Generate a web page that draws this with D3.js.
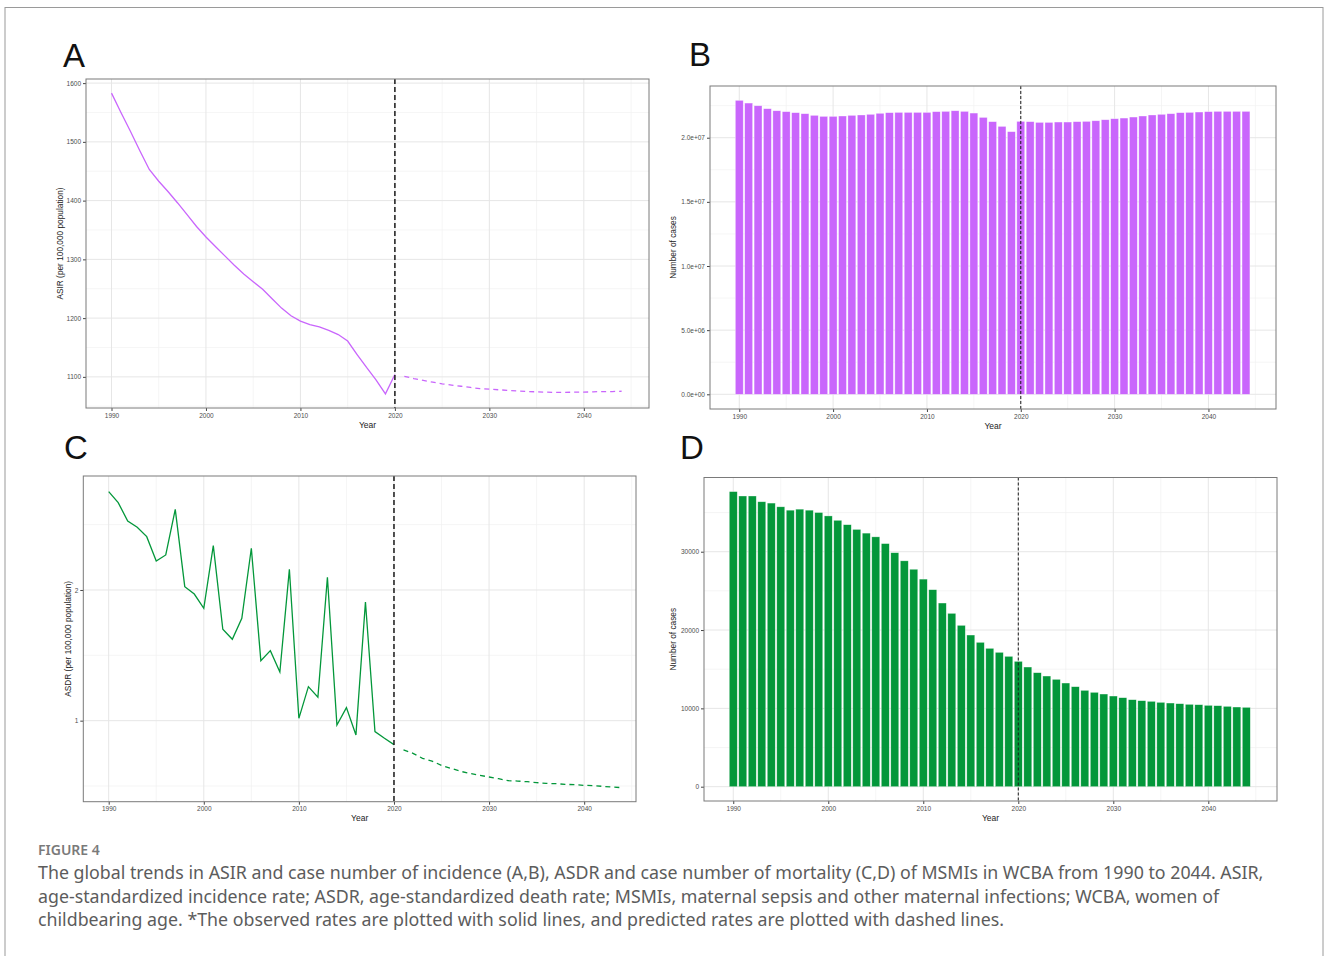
<!DOCTYPE html>
<html>
<head>
<meta charset="utf-8">
<script src="https://cdn.jsdelivr.net/npm/d3@7"></script>
<style>
  body{margin:0;background:#fff}
  text{font-family:"Liberation Sans",Arial,sans-serif}
</style>
</head>
<body>
<div id="chart-area"></div>
<script>
//Data
var years = [1990,1991,1992,1993,1994,1995,1996,1997,1998,1999,2000,2001,2002,2003,2004,2005,2006,2007,2008,2009,
  2010,2011,2012,2013,2014,2015,2016,2017,2018,2019,2020,2021,2022,2023,2024,2025,2026,2027,2028,2029,
  2030,2031,2032,2033,2034,2035,2036,2037,2038,2039,2040,2041,2042,2043,2044]
var obsYears = years.slice(0,31)    //1990-2020, solid lines
var predYears = years.slice(31)     //2021-2044, dashed lines

//A: ASIR
var asirObs = [1583,1550,1518,1485,1453,1433,1415,1396,1376,1356,1338,1322,1306,1290,1275,1262,1249,1233,1217,1204,
  1195,1189,1185,1179,1172,1161,1138,1116,1095,1071,1104]
var asirPred = [1101,1097,1094,1091,1088,1086,1084,1082,1080,1079,1078,1077,1076,1075,1074.5,1074,1073.5,1073.5,1074,1074,
  1074.5,1075,1075,1075.5]

//B: number of incident cases
var incCases = [22910000,22700000,22490000,22260000,22100000,22030000,21950000,21870000,21740000,21660000,
  21660000,21690000,21740000,21770000,21820000,21900000,21950000,21970000,21970000,21970000,
  21970000,22030000,22050000,22100000,22050000,21920000,21580000,21250000,20880000,20470000,
  21270000,21250000,21190000,21190000,21220000,21220000,21250000,21270000,21320000,21400000,
  21480000,21530000,21610000,21690000,21770000,21820000,21870000,21950000,21970000,22000000,
  22030000,22050000,22050000,22050000,22050000]

//C: ASDR
var asdrObs = [2.752,2.668,2.528,2.48,2.408,2.222,2.268,2.617,2.025,1.969,1.86,2.339,1.699,1.623,1.783,2.319,1.459,1.536,1.372,2.158,
  1.018,1.26,1.179,2.097,0.967,1.1,0.891,1.908,0.916,0.865,0.817]
var asdrPred = [0.776,0.75,0.712,0.691,0.658,0.635,0.612,0.597,0.582,0.569,0.556,0.541,0.538,0.533,0.526,0.52,0.518,0.513,0.51,0.505,
  0.503,0.497,0.492,0.487]

//D: number of deaths
var deathCases = [37672,37112,37112,36379,36207,35733,35302,35431,35302,35000,34569,34009,33448,32845,32371,31897,31034,29871,28836,27759,
  26500,25150,23447,22128,20596,19362,18426,17660,17149,16638,16000,15277,14553,14128,13702,13234,12766,12298,12043,11830,
  11574,11362,11106,10979,10894,10766,10681,10596,10511,10468,10383,10340,10255,10170,10128]

//Ticks
var xTicks = [1990,2000,2010,2020,2030,2040]
var xMinor = [1985,1995,2005,2015,2025,2035,2045]
var asirTicks = [1100,1200,1300,1400,1500,1600]
var asirMinor = [1050,1150,1250,1350,1450,1550,1650]
var incTicks = [0,5e6,1e7,1.5e7,2e7]
var incMinor = [2.5e6,7.5e6,1.25e7,1.75e7,2.25e7]
var asdrTicks = [1,2]
var asdrMinor = [0.5,1.5,2.5]
var deathTicks = [0,10000,20000,30000]
var deathMinor = [5000,15000,25000,35000]
var cutYear = 2020

var captionTitle = "FIGURE 4"
var captionLines = [
  "The global trends in ASIR and case number of incidence (A,B), ASDR and case number of mortality (C,D) of MSMIs in WCBA from 1990 to 2044. ASIR,",
  "age-standardized incidence rate; ASDR, age-standardized death rate; MSMIs, maternal sepsis and other maternal infections; WCBA, women of",
  "childbearing age. *The observed rates are plotted with solid lines, and predicted rates are plotted with dashed lines."
]

var purple = "#c966fc"
var green = "#03973a"

//Canvas
var svg = d3.select("#chart-area")
  .append("svg")
    .attr("width",1328)
    .attr("height",956)

svg.append("rect")
  .attr("x",5).attr("y",7.5)
  .attr("width",1318).attr("height",960)
  .attr("fill","#fff")
  .attr("stroke","#9a9a9a")
  .attr("stroke-width",1)

//Format like R: 2.0e+07
var sciFormat = (d)=>{
  return d.toExponential(1).replace(/e([+-])(\d)$/,"e$10$2")
}

//Draws one panel frame, grid, axes and titles and returns its scales
const drawPanel = (p)=>{
  let x = d3.scaleLinear().domain(p.xDomain).range([p.left,p.right])
  let y = d3.scaleLinear().domain(p.yDomain).range([p.bottom,p.top])
  let g = svg.append("g")

  //Grid
  let inX = (v)=> v>p.xDomain[0] && v<p.xDomain[1]
  let inY = (v)=> v>p.yDomain[0] && v<p.yDomain[1]
  g.selectAll(".vminor").data(xMinor.filter(inX)).enter().append("line")
    .attr("x1",d=>x(d)).attr("x2",d=>x(d)).attr("y1",p.top).attr("y2",p.bottom)
    .attr("stroke","#f1f1f1").attr("stroke-width",0.7)
  g.selectAll(".hminor").data(p.yMinor.filter(inY)).enter().append("line")
    .attr("x1",p.left).attr("x2",p.right).attr("y1",d=>y(d)).attr("y2",d=>y(d))
    .attr("stroke","#f1f1f1").attr("stroke-width",0.7)
  g.selectAll(".vmajor").data(xTicks).enter().append("line")
    .attr("x1",d=>x(d)).attr("x2",d=>x(d)).attr("y1",p.top).attr("y2",p.bottom)
    .attr("stroke","#e6e6e6").attr("stroke-width",1)
  g.selectAll(".hmajor").data(p.yTicks).enter().append("line")
    .attr("x1",p.left).attr("x2",p.right).attr("y1",d=>y(d)).attr("y2",d=>y(d))
    .attr("stroke","#e6e6e6").attr("stroke-width",1)

  //Axes
  let xAxisGroup = svg.append("g")
    .attr("transform","translate(0," + p.bottom + ")")
    .call(d3.axisBottom(x).tickValues(xTicks).tickSize(3).tickPadding(2).tickFormat(d3.format("d")))
  let yAxisGroup = svg.append("g")
    .attr("transform","translate(" + p.left + ",0)")
    .call(d3.axisLeft(y).tickValues(p.yTicks).tickSize(3).tickPadding(2).tickFormat(p.fmt))
  ;[xAxisGroup,yAxisGroup].forEach((a)=>{
    a.select(".domain").remove()
    a.selectAll("line").attr("stroke","#444")
    a.selectAll("text")
      .attr("font-size","6.5px")
      .attr("fill","#4d4d4d")
      .style("font-family","'Liberation Sans',Arial,sans-serif")
  })

  //Labels
  svg.append("text")
    .attr("x",(p.left + p.right) * 0.5)
    .attr("y",p.bottom + 19.5)
    .attr("font-size","8.5px")
    .attr("text-anchor","middle")
    .attr("fill","#222")
    .text("Year")
  svg.append("text")
    .attr("transform","translate(" + p.titleX + "," + ((p.top + p.bottom) * 0.5) + ") rotate(-90)")
    .attr("font-size","8.3px")
    .attr("text-anchor","middle")
    .attr("fill","#222")
    .text(p.yTitle)
  svg.append("text")
    .attr("x",p.letterX)
    .attr("y",p.letterY)
    .attr("font-size","33px")
    .attr("fill","#111")
    .style("font-family","'Liberation Sans Narrow','Liberation Sans',Arial,sans-serif")
    .text(p.letter)

  return {x:x,y:y,p:p}
}

const drawBorder = (c)=>{
  let p = c.p
  svg.append("rect")
    .attr("x",p.left).attr("y",p.top)
    .attr("width",p.right - p.left).attr("height",p.bottom - p.top)
    .attr("fill","none")
    .attr("stroke","#7a7a7a")
    .attr("stroke-width",1)
}

const drawCut = (c,width,dash)=>{
  svg.append("line")
    .attr("x1",c.x(cutYear)).attr("x2",c.x(cutYear))
    .attr("y1",c.p.top).attr("y2",c.p.bottom)
    .attr("stroke","#1a1a1a")
    .attr("stroke-width",width)
    .attr("stroke-dasharray",dash)
}

const drawLines = (c,obs,pred,color)=>{
  let line = d3.line()
    .x(d=>c.x(d[0]))
    .y(d=>c.y(d[1]))
  svg.append("path")
    .datum(d3.zip(obsYears,obs))
    .attr("d",line)
    .attr("fill","none")
    .attr("stroke",color)
    .attr("stroke-width",1.3)
  svg.append("path")
    .datum(d3.zip(predYears,pred))
    .attr("d",line)
    .attr("fill","none")
    .attr("stroke",color)
    .attr("stroke-width",1.3)
    .attr("stroke-dasharray","5,4")
}

const drawBars = (c,values,color)=>{
  let pitch = c.x(1991) - c.x(1990)
  let w = pitch * 0.84
  svg.selectAll(null)
    .data(d3.zip(years,values))
    .enter()
    .append("rect")
      .attr("x",d=>c.x(d[0]) - w/2)
      .attr("y",d=>c.y(d[1]))
      .attr("width",w)
      .attr("height",d=>c.y(0) - c.y(d[1]))
      .attr("fill",color)
      .attr("stroke","#ffffff")
      .attr("stroke-opacity",0.55)
      .attr("stroke-width",0.6)
}

//Panel A
var A = drawPanel({left:86,right:649,top:79,bottom:408,
  xDomain:[1987.3,2046.9],yDomain:[1047,1607],
  yTicks:asirTicks,yMinor:asirMinor,fmt:d3.format("d"),
  yTitle:"ASIR (per 100,000 population)",titleX:63,letter:"A",letterX:63,letterY:67})
drawLines(A,asirObs,asirPred,purple)
drawCut(A,1.5,"5,3")
drawBorder(A)

//Panel B
var B = drawPanel({left:710,right:1276,top:86,bottom:409,
  xDomain:[1986.88,2047.2],yDomain:[-1146000,24030000],
  yTicks:incTicks,yMinor:incMinor,fmt:sciFormat,
  yTitle:"Number of cases",titleX:676,letter:"B",letterX:689,letterY:66})
drawBars(B,incCases,purple)
drawCut(B,1,"3,2")
drawBorder(B)

//Panel C
var C = drawPanel({left:83.3,right:636,top:476,bottom:801.7,
  xDomain:[1987.33,2045.45],yDomain:[0.38,2.872],
  yTicks:asdrTicks,yMinor:asdrMinor,fmt:d3.format("d"),
  yTitle:"ASDR (per 100,000 population)",titleX:71,letter:"C",letterX:64,letterY:459})
drawLines(C,asdrObs,asdrPred,green)
drawCut(C,1.5,"5,3")
drawBorder(C)

//Panel D
var D = drawPanel({left:704,right:1277,top:477.5,bottom:801,
  xDomain:[1986.92,2047.23],yDomain:[-1826,39474],
  yTicks:deathTicks,yMinor:deathMinor,fmt:d3.format("d"),
  yTitle:"Number of cases",titleX:676,letter:"D",letterX:680,letterY:459})
drawBars(D,deathCases,green)
drawCut(D,1,"3,2")
drawBorder(D)

//Caption
svg.append("text")
  .attr("x",38)
  .attr("y",855)
  .attr("font-size","14px")
  .attr("font-weight","600")
  .attr("fill","#7a7a7a")
  .style("font-family","'Noto Sans',sans-serif")
  .text(captionTitle)

svg.selectAll(".caption")
  .data(captionLines)
  .enter()
  .append("text")
    .attr("x",38)
    .attr("y",(d,i)=>879 + i * 23.5)
    .attr("font-size","17.8px")
    .attr("fill","#5c5c5c")
    .style("font-family","'Noto Sans',sans-serif")
    .text(d=>d)
</script>
</body>
</html>
